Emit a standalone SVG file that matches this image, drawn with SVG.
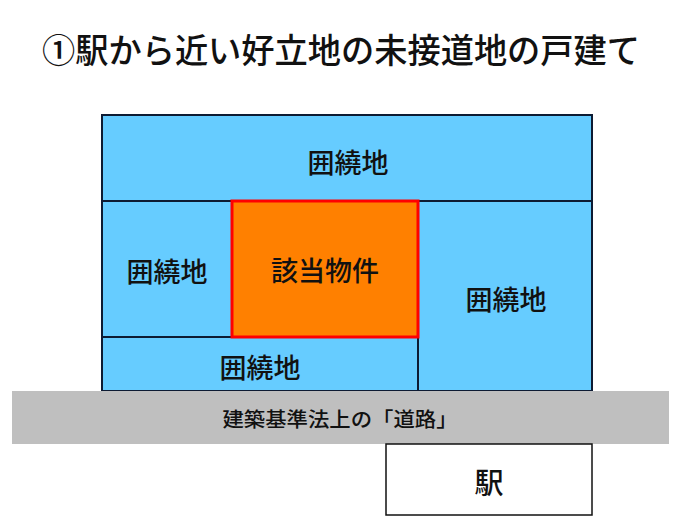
<svg xmlns="http://www.w3.org/2000/svg" width="680" height="517" viewBox="0 0 680 517">
<style>
text{font-family:"Noto Sans CJK JP","Noto Sans CJK SC",sans-serif;fill:#111;text-anchor:middle;dominant-baseline:central}
.lot{fill:#66CCFF;stroke:#0d1b33;stroke-width:2}
.lbl{font-size:27px;font-weight:500}
</style>
<rect width="680" height="517" fill="#fff"/>
<text x="341" y="48" style="font-size:34px;font-weight:500" textLength="598" lengthAdjust="spacingAndGlyphs">①駅から近い好立地の未接道地の戸建て</text>
<g id="top"><rect class="lot" x="102" y="115" width="490" height="86"/><text class="lbl" x="348" y="161">囲繞地</text></g>
<g id="left"><rect class="lot" x="102" y="201" width="130" height="136"/><text class="lbl" x="167" y="270">囲繞地</text></g>
<g id="right"><rect class="lot" x="418" y="201" width="174" height="190"/><text class="lbl" x="506" y="298">囲繞地</text></g>
<g id="bottom"><rect class="lot" x="102" y="337" width="316" height="54"/><text class="lbl" x="260" y="366">囲繞地</text></g>
<g id="subject"><rect x="232" y="201" width="186" height="136" fill="#FF8000" stroke="#FF0000" stroke-width="3"/><text class="lbl" x="325" y="269">該当物件</text></g>
<g id="road"><rect x="12" y="391" width="657" height="53" fill="#BFBFBF"/><text x="340" y="418" style="font-size:20px;font-weight:500" textLength="235" lengthAdjust="spacingAndGlyphs">建築基準法上の「道路」</text></g>
<g id="station"><rect x="386" y="444" width="206" height="71" fill="#fff" stroke="#111" stroke-width="1.5"/><text class="lbl" x="489" y="481" style="font-size:29px">駅</text></g>
<g id="connectors"/>
</svg>
